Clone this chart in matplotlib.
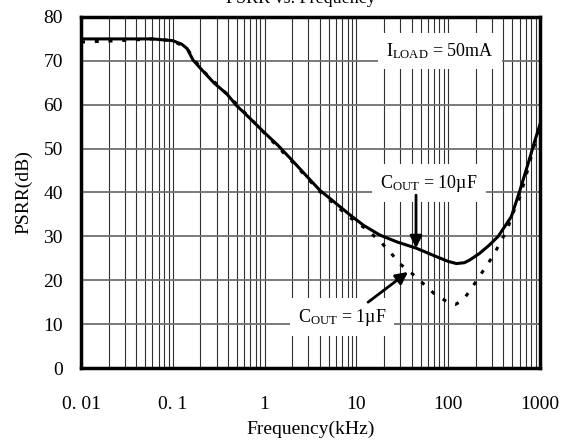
import numpy as np
import matplotlib
matplotlib.use("Agg")
import matplotlib.pyplot as plt
from matplotlib.ticker import FixedLocator, NullFormatter

plt.rcParams['font.family'] = ['Liberation Serif', 'DejaVu Serif']
plt.rcParams['mathtext.fontset'] = 'custom'
plt.rcParams['mathtext.rm'] = 'Liberation Serif'

# C_OUT = 10uF (solid)
freq_10uF = [0.01, 0.03, 0.06, 0.1, 0.125, 0.143, 0.166, 0.2, 0.28, 0.39, 0.49,
             0.7, 1.0, 1.39, 2.0, 3.0, 4.0, 6.0, 8.5, 12, 18, 28, 45, 74, 100,
             123, 150, 171, 219, 280, 350, 400, 487, 605, 742, 900, 1000]
psrr_10uF = [75.0, 75.0, 75.0, 74.6, 73.8, 72.8, 70.2, 68.3, 65.0, 62.4, 59.9,
             56.8, 53.6, 50.8, 47.3, 43.3, 40.5, 37.5, 34.9, 32.5, 30.3, 28.7, 27.3, 25.4, 24.3,
             23.8, 24.0, 24.6, 26.1, 28.0, 30.0, 31.8, 34.5, 40.5, 46.6, 52.5, 55.5]

# C_OUT = 1uF (dotted)
freq_1uF = [0.01, 0.02, 0.04, 0.06, 0.1, 0.143, 0.2, 0.39, 1.0, 2.0, 4.0, 8.5,
            13.3, 18.2, 23.2, 29.5, 40, 53, 70, 104, 120, 146, 195, 250, 309,
            365, 437, 505, 605, 742, 900, 1000]
psrr_1uF = [74.3, 74.5, 74.8, 75.0, 74.6, 72.8, 68.3, 62.4, 53.5, 47.0, 40.2, 34.3,
            31.4, 28.8, 26.5, 23.8, 21.6, 19.3, 17.0, 14.7, 14.5, 15.5, 19.3, 22.7, 25.6,
            28.4, 31.4, 35.2, 39.0, 45.5, 52.0, 55.5]

xticks = [0.01, 0.1, 1, 10, 100, 1000]
xtick_labels = ["0. 01", "0. 1", "1", "10", "100", "1000"]
yticks = [0, 10, 20, 30, 40, 50, 60, 70, 80]

fig = plt.figure(figsize=(5.71, 4.41), dpi=100)
ax = fig.add_axes([0.1419, 0.1655, 0.8038, 0.7960])

ax.set_xscale('log')
ax.set_xlim(0.01, 1000)
ax.set_ylim(0, 80)

minor = [m * 10.0 ** e for e in range(-2, 3) for m in range(2, 10)]
ax.xaxis.set_major_locator(FixedLocator(xticks))
ax.xaxis.set_minor_locator(FixedLocator(minor))
ax.xaxis.set_minor_formatter(NullFormatter())
ax.set_xticklabels(xtick_labels)
ax.set_yticks(yticks)

ax.tick_params(axis='both', which='both', length=0, labelsize=14)
ax.tick_params(axis='x', pad=20)
ax.tick_params(axis='y', pad=13)

ax.grid(True, axis='x', which='both', color='#303030', lw=0.8)
ax.grid(True, axis='y', which='major', color='#707070', lw=1.3)

for s in ax.spines.values():
    s.set_linewidth(2.5)

ax.plot(freq_10uF, psrr_10uF, color='black', lw=2.2, zorder=3)
ax.plot(freq_1uF, psrr_1uF, color='black', lw=2.2, linestyle=(0, (1.3, 3.2)), zorder=3)

box = dict(facecolor='white', edgecolor='none', pad=6)
ax.text(81.4, 72.2, r'$\mathrm{I_{LOAD}}$ = 50mA', fontsize=13, ha='center', va='center',
        bbox=box, zorder=4)
ax.text(61.8, 42.1, r'$\mathrm{C_{OUT}}$ = 10µF', fontsize=13, ha='center', va='center',
        bbox=box, zorder=4)
ax.text(6.97, 11.6, r'$\mathrm{C_{OUT}}$ = 1µF', fontsize=13, ha='center', va='center',
        bbox=box, zorder=4)

arrow = dict(arrowstyle='-|>', lw=2, color='black', mutation_scale=18, shrinkA=0, shrinkB=0)
ax.annotate('', xy=(44.6, 27.3), xytext=(44.6, 39.4), arrowprops=arrow, zorder=5)
ax.annotate('', xy=(36.5, 21.9), xytext=(13.4, 15.0), arrowprops=arrow, zorder=5)

ax.set_xlabel('Frequency(kHz)', fontsize=14, labelpad=6)
ax.set_ylabel('PSRR(dB)', fontsize=14, labelpad=8)

# title is partly clipped by the top edge, as in the source image
fig.text(0.527, 0.993, 'PSRR vs. Frequency', fontsize=13, ha='center', va='baseline')

fig.savefig('out.png', dpi=100)
